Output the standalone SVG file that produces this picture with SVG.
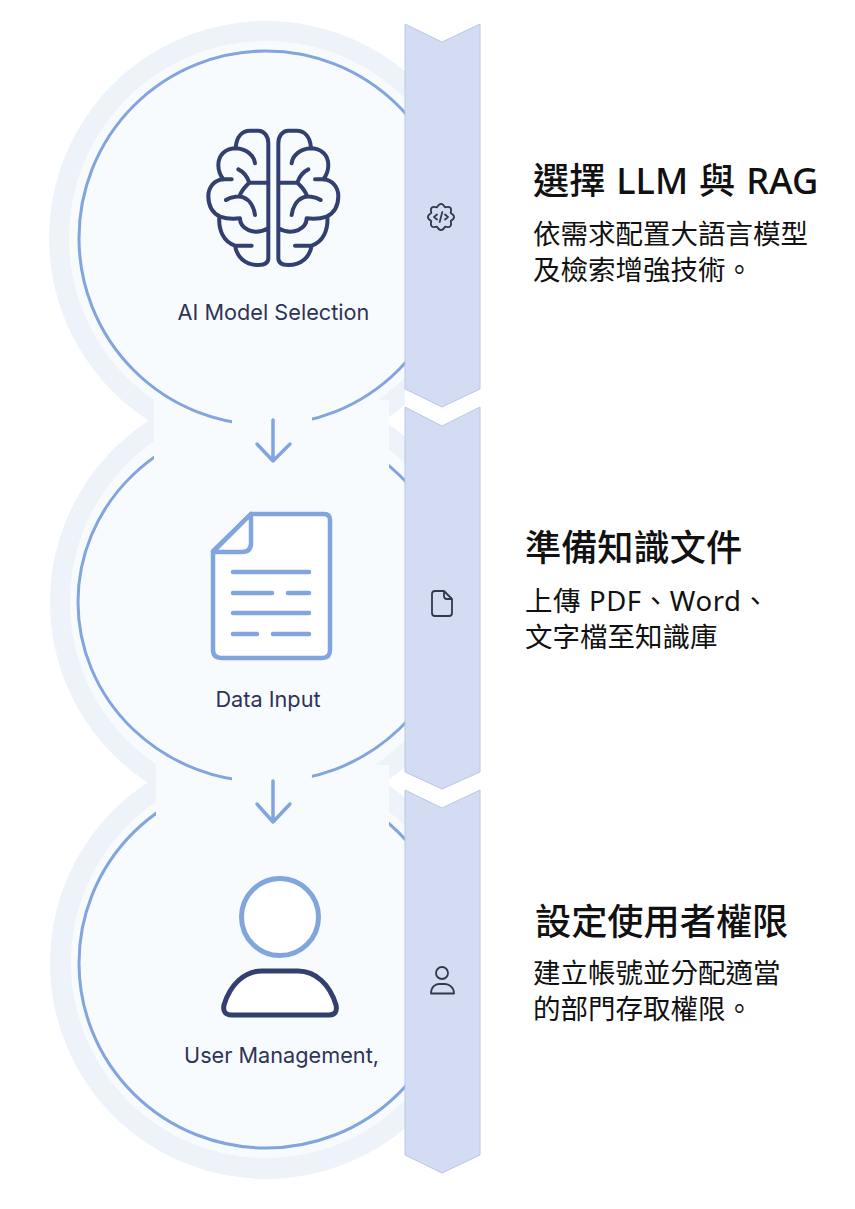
<svg xmlns="http://www.w3.org/2000/svg" width="855" height="1209" viewBox="0 0 855 1209">
<style>
.halo{fill:#eef3f9}
.disc{fill:#f8fbfe}
.ring{fill:none;stroke:#82a5de;stroke-width:3}
.arrow{fill:none;stroke:#82a5de;stroke-width:3.5;stroke-linecap:round;stroke-linejoin:round}
.chev{fill:#d4dcf4;stroke:#bcc6e6;stroke-width:1}
.mini{fill:none;stroke:#33384a;stroke-width:1.8;stroke-linecap:round;stroke-linejoin:round}
.lab{font-family:Inter,"Liberation Sans",sans-serif;font-size:21.700px;fill:#2f3358;text-anchor:middle}
.ttl{font-family:"Noto Sans","Noto Sans CJK TC",sans-serif;font-size:36.200px;font-weight:500;fill:#111}
.bod{font-family:"Noto Sans","Noto Sans CJK TC",sans-serif;font-size:27.500px;fill:#111}
.brain{fill:none;stroke:#33406f;stroke-width:12;stroke-linecap:round;stroke-linejoin:round}
.doc{fill:#fff;stroke:#82a5de;stroke-width:4.5;stroke-linejoin:round;stroke-linecap:round}
.docl{fill:none;stroke:#82a5de;stroke-width:4.5;stroke-linecap:round}
</style>
<defs>
<clipPath id="left"><rect x="0" y="0" width="405" height="1209"/></clipPath>
<path id="hemi" d="M235 415V70C235 48 222 32 205 32H180C155 32 140 52 137 82M195 130C192 105 170 88 140 85C105 85 85 105 85 135C85 150 90 165 100 178M125 178H100C70 180 55 205 55 228C55 260 70 280 90 290C110 297 135 297 150 295C150 325 190 350 235 325M88 290C85 330 100 365 135 377H185M135 377C140 410 165 435 205 435C224 435 235 428 235 415M145 148C160 155 172 170 178 188C165 200 155 210 150 225M178 188H235M108 240C125 228 150 228 160 232C180 240 192 262 195 285"/>
</defs>
<g id="backdrop" clip-path="url(#left)">
<circle class="halo" cx="266" cy="238" r="217"/>
<circle class="halo" cx="266" cy="602" r="216"/>
<circle class="halo" cx="266" cy="963" r="216"/>
<circle class="disc" cx="266" cy="238" r="197"/>
<circle class="disc" cx="266" cy="602" r="196"/>
<circle class="disc" cx="266" cy="963" r="195"/>
</g>
<g id="connectors" clip-path="url(#left)">
<ellipse class="ring" cx="266" cy="963" rx="187" ry="185"/>
<rect class="disc" x="156" y="765" width="233" height="70"/>
<ellipse class="ring" cx="266" cy="602" rx="188" ry="180"/>
<rect class="disc" x="154" y="400" width="235" height="70"/>
<ellipse class="ring" cx="266" cy="238" rx="187" ry="187"/>
<rect class="disc" x="232" y="405" width="80" height="30"/>
<rect class="disc" x="232" y="770" width="80" height="25"/>
<path class="arrow" d="M273 420V461M257 444L273 461L290 444"/>
<path class="arrow" d="M273 781V822M257 804L273 822L290 804"/>
</g>
<g id="node-ai-model">
<g transform="translate(190 120) scale(.3333)">
<use href="#hemi" class="brain"/>
<use href="#hemi" class="brain" transform="translate(500 0) scale(-1 1)"/>
</g>
<text class="lab" x="273.500" y="320">AI Model Selection</text>
</g>
<g id="node-data-input">
<path class="doc" d="M251 514H324Q330 514 330 520V650Q330 658 322 658H222Q213 658 213 650V551Z"/>
<path class="doc" d="M251 514V543Q251 552 242 552H213Z"/>
<path class="docl" d="M233 572H309M233 593H272M288 593H309M233 613H309M233 634H257M273 634H309"/>
<text class="lab" x="268" y="707">Data Input</text>
</g>
<g id="node-user">
<circle cx="280" cy="917" r="38.500" fill="#fff" stroke="#82a5de" stroke-width="5"/>
<path d="M232 1015H329Q338 1015 336 1005C330 985 316 971 298 971H262C244 971 230 985 224 1005Q222 1015 232 1015Z" fill="#fff" stroke="#33406f" stroke-width="5" stroke-linejoin="round"/>
<text class="lab" x="281.500" y="1063">User Management,</text>
</g>
<g id="step-1">
<path class="chev" d="M405 24L442 42L480 24V389L442 407L405 389Z"/>
<g transform="translate(441 217)">
<path class="mini" d="M9.700 4Q11.700 11.700 4 9.700Q0 16.500 -4 9.700Q-11.700 11.700 -9.700 4Q-16.500 0 -9.700 -4Q-11.700 -11.700 -4 -9.700Q0 -16.500 4 -9.700Q11.700 -11.700 9.700 -4Q16.500 0 9.700 4Z"/>
<path class="mini" stroke-width="1.500" d="M-4 -2.500L-7 0L-4 2.500M4 -2.500L7 0L4 2.500M1.300 -5L-1.300 5"/>
</g>
<text class="ttl" x="533" y="194" word-spacing="1.500">選擇 LLM 與 RAG</text>
<text class="bod" x="533" y="244">依需求配置大語言模型</text>
<text class="bod" x="533" y="280">及檢索增強技術。</text>
</g>
<g id="step-2">
<path class="chev" d="M405 407L442 426L480 407V772L442 789L405 772Z"/>
<path class="mini" d="M444 591H435Q432 591 432 594V613Q432 616 435 616H449Q452 616 452 613V599ZM444 591V596Q444 599 447 599H452"/>
<text class="ttl" x="525" y="561">準備知識文件</text>
<text class="bod" x="525" y="611" letter-spacing=".6">上傳 PDF、Word、</text>
<text class="bod" x="525" y="647">文字檔至知識庫</text>
</g>
<g id="step-3">
<path class="chev" d="M405 790L442 808L480 790V1155L442 1173L405 1155Z"/>
<circle class="mini" cx="442" cy="973" r="6"/>
<path class="mini" d="M431 993.500H454C454 987 449 984 445 984H439C435 984 431 987 431 993.500Z"/>
<text class="ttl" x="535" y="935">設定使用者權限</text>
<text class="bod" x="533" y="983">建立帳號並分配適當</text>
<text class="bod" x="533" y="1019">的部門存取權限。</text>
</g>
</svg>
